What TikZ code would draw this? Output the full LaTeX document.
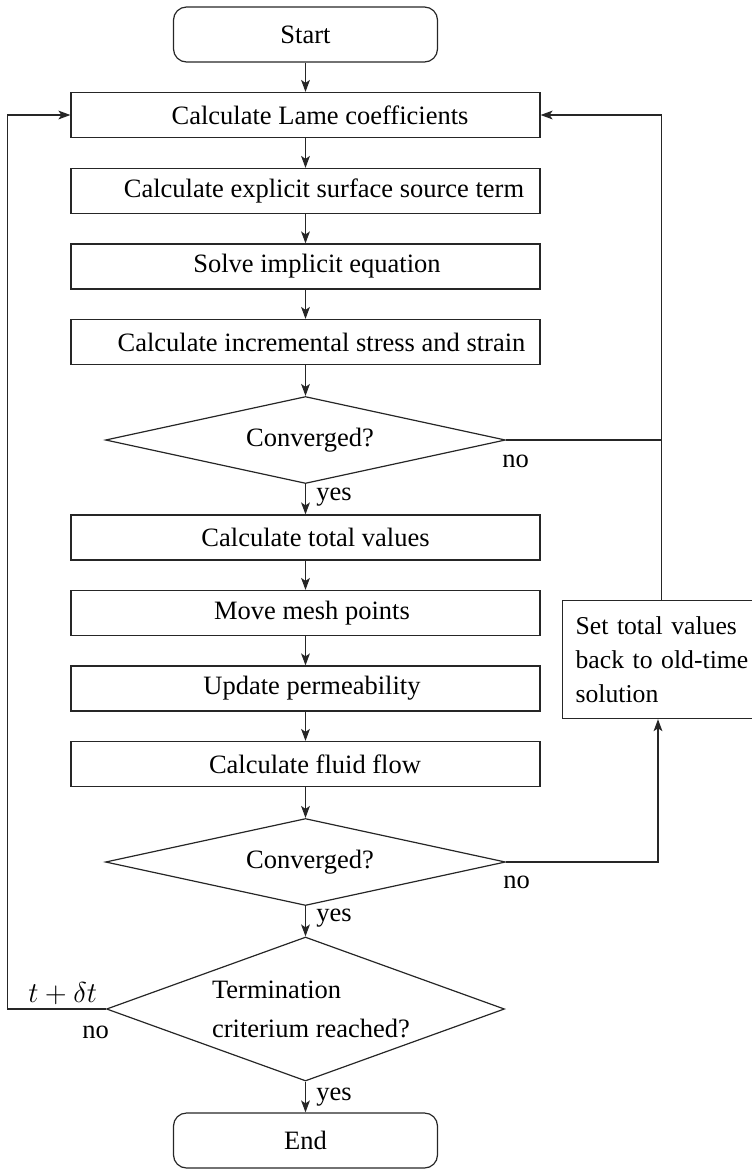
\documentclass[tikz,border=0pt]{standalone}
\usepackage{fontspec}
\setmainfont{Liberation Serif}
\usetikzlibrary{shapes.geometric,arrows.meta}

\begin{document}
\begin{tikzpicture}[x=0.5pt,y=-0.5pt,
  every node/.style={font=\fontsize{13.25}{16}\selectfont},
  line/.style={line width=0.6pt, draw=black!85},
  arr/.style={line, -{Stealth[length=6pt,width=4.4pt,inset=1.5pt]}},
  stepbox/.style={draw=black!85, line width=0.6pt, minimum width=234.5pt,
    minimum height=22.5pt, inner sep=0pt},
  terminal/.style={draw=black!85, line width=0.6pt, rounded corners=6.5pt,
    minimum width=132pt, minimum height=27.5pt, inner sep=0pt},
  decision/.style={draw=black!85, line width=0.6pt, diamond, inner sep=0pt,
    minimum width=200pt, minimum height=43.5pt, aspect=4.6},
  lbl/.style={anchor=base west, inner sep=0pt}]

\useasboundingbox (0,0) rectangle (751,1169);

% main column
\node[terminal] (start) at (305.5,34.5) {Start};
\node[stepbox] (lame)  at (305.5,115) {\hspace*{14.5pt}Calculate Lame coefficients};
\node[stepbox] (expl)  at (305.5,191) {\hspace*{18.5pt}Calculate explicit surface source term};
\node[stepbox] (solve) at (305.5,266.5) {\hspace*{11.5pt}Solve implicit equation};
\node[stepbox] (incr)  at (305.5,342) {\hspace*{16pt}Calculate incremental stress and strain};
\node[decision] (conv1) at (305.5,440) {\hspace*{4.5pt}Converged?};
\node[stepbox] (total) at (305.5,537.5) {\hspace*{10pt}Calculate total values};
\node[stepbox] (mesh)  at (305.5,613) {\hspace*{6.5pt}Move mesh points};
\node[stepbox] (perm)  at (305.5,688.5) {\hspace*{6.5pt}Update permeability};
\node[stepbox] (flow)  at (305.5,764) {\hspace*{9.5pt}Calculate fluid flow};
\node[decision] (conv2) at (305.5,862) {\hspace*{4.5pt}Converged?};
\node[decision, minimum width=199pt, minimum height=72pt, aspect=2.75,
  align=left, font=\fontsize{13.25}{19.5}\selectfont] (term) at (305.5,1009)
  {\hspace*{5.5pt}Termination\\\hspace*{5.5pt}criterium reached?};
\node[terminal] (end) at (305.5,1140.5) {End};

% reset box on the right, running off the page edge
\node[draw=black!85, line width=0.6pt, anchor=north west, text width=92pt,
  align=left, inner xsep=6.5pt, inner ysep=0pt, minimum height=59pt,
  font=\fontsize{12.85}{17}\selectfont] (reset) at (562,600)
  {Set total values\\back to old-time\\solution};

% rails for the feedback loops
\coordinate (lrail) at (7.5,0);
\coordinate (rrail) at (661.5,0);
\coordinate (rlow) at (658,0);

% forward connectors
\draw[arr] (start) -- (lame);
\draw[arr] (lame) -- (expl);
\draw[arr] (expl) -- (solve);
\draw[arr] (solve) -- (incr);
\draw[arr] (incr) -- (conv1);
\draw[arr] (conv1) -- (total);
\draw[arr] (total) -- (mesh);
\draw[arr] (mesh) -- (perm);
\draw[arr] (perm) -- (flow);
\draw[arr] (flow) -- (conv2);
\draw[arr] (conv2) -- (term);
\draw[arr] (term) -- (end);

% feedback connectors
\draw[line] (conv1.east) -- (conv1.east -| rrail);
\draw[arr] (reset.north -| rrail) |- (lame.east);
\draw[arr] (conv2.east) -| (reset.south -| rlow);
\draw[arr] (term.west) -- (term.west -| lrail) |- (lame.west);

% branch labels
\node[lbl] (yes1) at (316,500) {yes};
\node[lbl] (no1)  at (502,467) {no};
\node[lbl] (yes2) at (316,921) {yes};
\node[lbl] (no2)  at (503,888) {no};
\node[lbl] (yes3) at (316,1100) {yes};
\node[lbl] (no3)  at (82,1038) {no};
\node[lbl] (step) at (28,1002) {$t+\delta t$};

\end{tikzpicture}
\end{document}
